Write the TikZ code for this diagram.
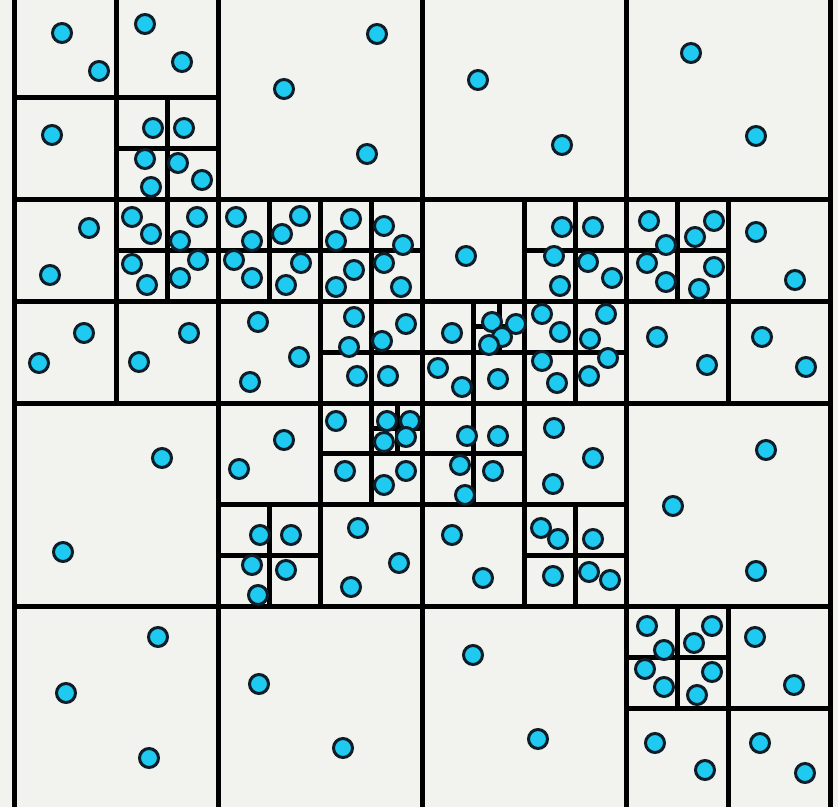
\documentclass[tikz,border=0pt]{standalone}
\usepackage{xcolor}
\usepackage{tikz}
\definecolor{fundo}{HTML}{F2F2EF}
\definecolor{ciano}{HTML}{1FCAF0}
\definecolor{borda}{HTML}{0E1E28}
\begin{document}
\begin{tikzpicture}[
      x=0.2mm, y=-0.2mm,
      dot/.style={circle,draw=borda,fill=ciano,line width=0.6mm,minimum size=3.8mm,inner sep=0pt},
      split/.style={draw=black,line width=1mm},
    ]
  \useasboundingbox (0,0) rectangle (838,807);
  \fill[fundo] (0,0) rectangle (838,807);

  % quadtree cells (grid units, one unit = one cell of the 8x8 level)
  \begin{scope}[shift={(14.7,-3.7)}, x=20.4mm, y=-20.34mm]
    \draw[split] (0,0) rectangle (8,8);
    \foreach \s/\cx/\cy in {8/0/0,
        4/0/0, 4/4/0, 4/0/4, 4/4/4,
        2/0/0, 2/0/2, 2/2/2, 2/4/2, 2/6/2, 2/2/4, 2/4/4, 2/6/6,
        1/1/1, 1/1/2, 1/2/2, 1/3/2, 1/5/2, 1/6/2, 1/3/3, 1/4/3, 1/5/3,
        1/3/4, 1/4/4, 1/2/5, 1/5/5, 1/6/6,
        0.5/4.5/3, 0.5/3.5/4}
      \draw[split] (\cx+\s/2,\cy) -- ++(0,\s) (\cx,\cy+\s/2) -- ++(\s,0);
  \end{scope}

  % points
  \foreach \x/\y [count=\i] in {62/33, 99/71, 145/24, 182/62, 52/135,
      153/128, 184/128, 145/159, 178/163, 202/180, 151/187,
      377/34, 284/89, 367/154, 478/80, 562/145, 691/53, 756/136,
      89/228, 50/275,
      132/217, 151/234, 197/217, 180/241, 132/264, 147/285, 198/260, 180/278,
      236/217, 252/241, 300/216, 282/234, 234/260, 252/278, 301/263, 286/285,
      351/219, 336/241, 384/226, 403/245, 354/270, 336/287, 384/263, 401/287,
      466/256,
      562/227, 593/227, 554/256, 560/286, 588/262, 612/278,
      649/221, 666/245, 647/263, 666/282, 714/221, 695/237, 714/267, 699/289,
      756/232, 795/280, 84/333, 39/363, 189/333, 139/362,
      258/322, 250/382, 299/357,
      354/317, 349/347, 406/324, 382/341, 357/376, 388/376,
      452/333, 438/368, 462/387, 498/379, 492/322, 516/324, 502/337, 489/345,
      542/314, 560/332, 606/314, 590/339, 542/361, 557/383, 608/358, 589/376,
      657/337, 707/365, 762/337, 806/367,
      162/458, 63/552, 284/440, 239/469,
      336/421, 345/471, 406/471, 384/485, 387/421, 410/421, 384/442, 406/437,
      467/436, 498/436, 460/465, 465/495, 493/471,
      554/428, 593/458, 553/484,
      260/535, 291/535, 252/565, 258/595, 286/570,
      358/528, 399/563, 351/587, 452/535, 483/578,
      541/528, 558/539, 593/539, 553/576, 589/572, 610/580,
      766/450, 673/506, 756/571,
      158/637, 66/693, 149/758, 259/684, 343/748, 473/655, 538/739,
      647/626, 664/650, 712/626, 694/643, 645/669, 664/687, 712/672, 697/695,
      755/637, 794/685, 655/743, 705/770, 760/743, 805/773}
    \node[dot] (d\i) at (\x,\y) {};
\end{tikzpicture}
\end{document}
